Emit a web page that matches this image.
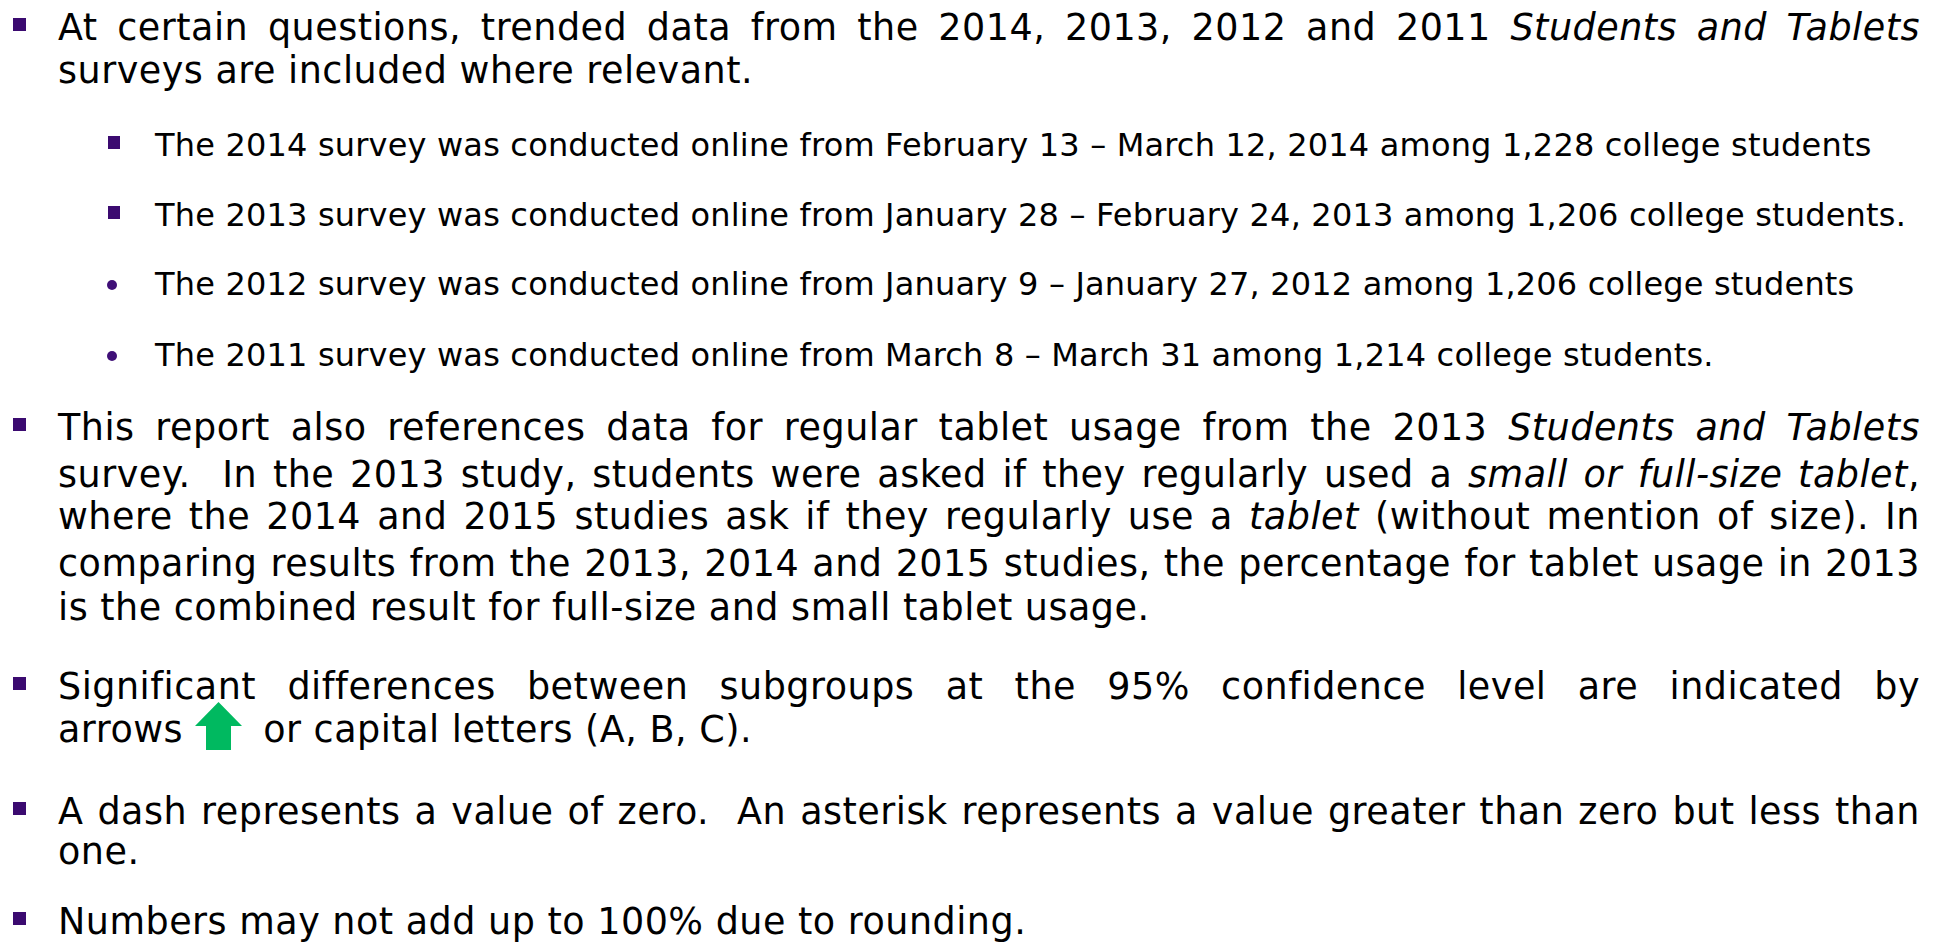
<!DOCTYPE html>
<html>
<head>
<meta charset="utf-8">
<script src="https://cdn.jsdelivr.net/npm/chart.js@4.4.1/dist/chart.umd.min.js"></script>
<style>
body{margin:0;width:1946px;height:946px;background:#fff;overflow:hidden;position:relative;
  font-family:"DejaVu Sans",Verdana,sans-serif;color:#000}
.ln{position:absolute;white-space:nowrap}
.main{left:58px;font-size:36.5px;line-height:44px;letter-spacing:0.5px}
.sub{left:155px;font-size:32px;line-height:40px;letter-spacing:0.18px}
.sq{position:absolute;background:#3b0a70}
.dot{position:absolute;background:#3f0f77;border-radius:50%}
.gap{display:inline-block;width:80px}
#arrow{position:absolute;left:195px;top:702px}
</style>
</head>
<body>
<svg id="arrow" width="48" height="49" viewBox="0 0 48 49">
  <polygon points="23.5,0 47,24 36,24 36,48 11,48 11,24 0,24" fill="#00b960"/>
</svg>
<script>
// slide text, line by line as in the original
var mainLines = [
  'At certain questions, trended data from the 2014, 2013, 2012 and 2011 <i>Students and Tablets</i>',
  'surveys are included where relevant.',
  'This report also references data for regular tablet usage from the 2013 <i>Students and Tablets</i>',
  'survey.&nbsp; In the 2013 study, students were asked if they regularly used a <i>small or full-size tablet</i>,',
  'where the 2014 and 2015 studies ask if they regularly use a <i>tablet</i> (without mention of size). In',
  'comparing results from the 2013, 2014 and 2015 studies, the percentage for tablet usage in 2013',
  'is the combined result for full-size and small tablet usage.',
  'Significant differences between subgroups at the 95% confidence level are indicated by',
  'arrows<span class="gap"></span>or capital letters (A, B, C).',
  'A dash represents a value of zero.&nbsp; An asterisk represents a value greater than zero but less than',
  'one.',
  'Numbers may not add up to 100% due to rounding.'
]
var mainJustify = [1,0, 1,1,1,1,0, 1,0, 1,0, 0]
var mainBullet  = [1,0, 1,0,0,0,0, 1,0, 1,0, 1]
var mainBase    = [41,84, 441,488,530,577,621, 700,743, 825,865, 935]

var subLines = [
  'The 2014 survey was conducted online from February 13 – March 12, 2014 among 1,228 college students',
  'The 2013 survey was conducted online from January 28 – February 24, 2013 among 1,206 college students.',
  'The 2012 survey was conducted online from January 9 – January 27, 2012 among 1,206 college students',
  'The 2011 survey was conducted online from March 8 – March 31 among 1,214 college students.'
]
var subBulletType = ['square','square','dot','dot']
var subBase = [156,226,295,366]

var lineWidth = 1862

function addDiv(cls, html, top){
  var d = document.createElement('div')
  d.className = cls
  d.innerHTML = html
  d.style.top = top + 'px'
  document.body.appendChild(d)
  return d
}

mainLines.forEach(function(txt, i){
  var d = addDiv('ln main', txt, mainBase[i] - 34.65)
  if (mainJustify[i]) {
    var natural = d.getBoundingClientRect().width
    var spaces = (d.textContent.match(/[ \u00a0]/g) || []).length
    d.style.wordSpacing = ((lineWidth - natural) / spaces) + 'px'
  }
  if (mainBullet[i]) {
    var b = addDiv('sq', '', mainBase[i] - 23)
    b.style.left = '13px'; b.style.width = '13px'; b.style.height = '13px'
  }
})

subLines.forEach(function(txt, i){
  addDiv('ln sub', txt, subBase[i] - 31)
  if (subBulletType[i] == 'square') {
    var b = addDiv('sq', '', subBase[i] - 20)
    b.style.left = '108px'; b.style.width = '12px'; b.style.height = '13px'
  } else {
    var b = addDiv('dot', '', subBase[i] - 15.5)
    b.style.left = '106.5px'; b.style.width = '10.5px'; b.style.height = '10.5px'
  }
})
</script>
</body>
</html>
